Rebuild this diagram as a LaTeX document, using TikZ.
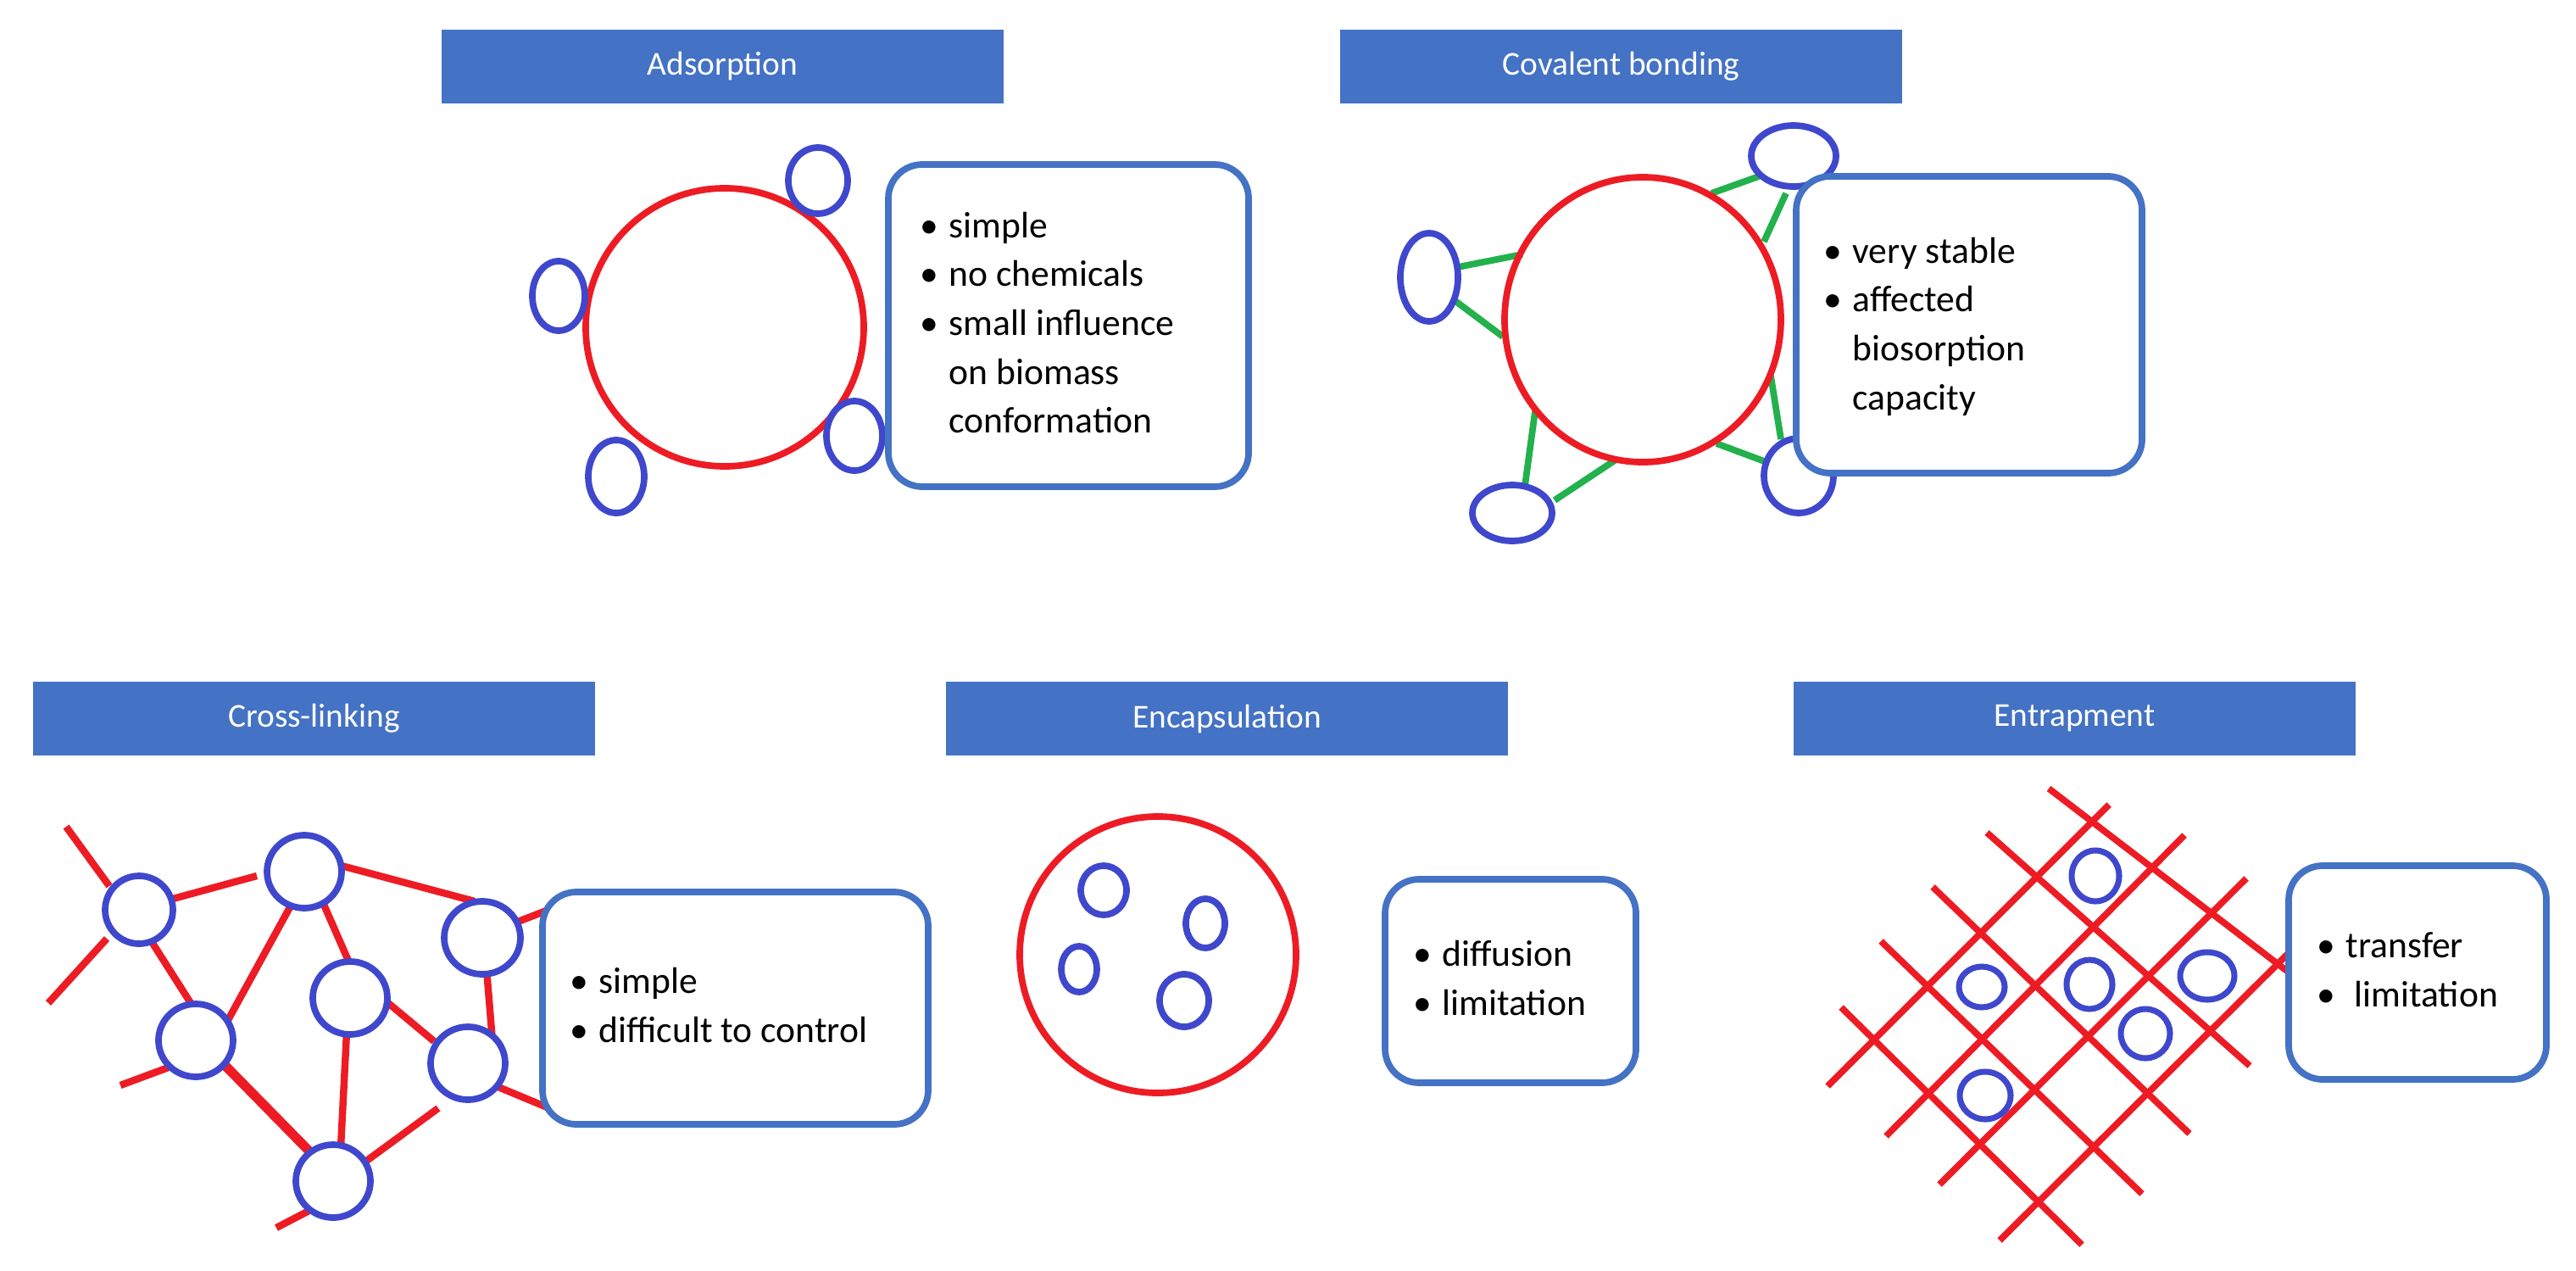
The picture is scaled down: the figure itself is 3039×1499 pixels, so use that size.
\documentclass[tikz,border=0pt]{standalone}
\usepackage{fontspec}
\setmainfont{Carlito}
\definecolor{hdr}{HTML}{4472C4}
\definecolor{rd}{HTML}{ED1C24}
\definecolor{bl}{HTML}{3F48CC}
\definecolor{gr}{HTML}{22B14C}
\newcommand{\bitem}{\textbullet}
\begin{document}
\begin{tikzpicture}[x=0.025cm,y=-0.025cm,
  header/.style={fill=hdr,text=white,font=\fontsize{28}{34}\selectfont,inner sep=0},
  infobox/.style={draw=hdr,line width=5.5pt,rounded corners=1cm,fill=white},
  infotext/.style={anchor=west,inner sep=0,font=\fontsize{31}{41}\selectfont,align=left},
  cell/.style={draw=rd,line width=5.5pt},
  mol/.style={draw=bl,line width=5.5pt,fill=white},
  link/.style={draw=rd,line width=6pt},
  glink/.style={draw=gr,line width=5.5pt}]
\useasboundingbox (0,0) rectangle (3039,1499);

% headers
\path[fill=hdr] (521,35) rectangle (1184,122); \node[header] (h1) at (852.5,78.5) {Adsorption};
\path[fill=hdr] (1581,35) rectangle (2244,122); \node[header] (h2) at (1912.5,78.5) {Covalent bonding};
\path[fill=hdr] (39,804) rectangle (702,891); \node[header] (h3) at (370.5,847.5) {Cross-linking};
\path[fill=hdr] (1116,804) rectangle (1779,891); \node[header] (h4) at (1447.5,847.5) {Encapsulation};
\path[fill=hdr] (2116,804) rectangle (2779,891); \node[header] (h5) at (2447.5,847.5) {Entrapment};

% Adsorption
\draw[cell] (855,386) circle [radius=164];
\draw[mol] (965,213) ellipse [x radius=35,y radius=39];
\draw[mol] (659,349) ellipse [x radius=31,y radius=41];
\draw[mol] (1008,514) ellipse [x radius=33,y radius=41];
\draw[mol] (727,562) ellipse [x radius=33,y radius=43];
\draw[infobox] (1048,194) rectangle (1473,574);
\node[infotext] (t1) at (1085,384) {\begin{tabular}{@{}l@{\hspace{9pt}}l@{}}\bitem & simple\\ \bitem & no chemicals\\ \bitem & small influence\\ & on biomass\\ & conformation\end{tabular}};

% Covalent bonding
\draw[glink] (2019,228) -- (2075,208);
\draw[glink] (2107,228) -- (2081,285);
\draw[glink] (1720,315) -- (1796,300);
\draw[glink] (1717,355) -- (1773,397);
\draw[glink] (2089,443) -- (2101,518);
\draw[glink] (2025,523) -- (2084,545);
\draw[glink] (1811,485) -- (1799,573);
\draw[glink] (1834,590) -- (1905,543);
\draw[cell] (1938,377) ellipse [x radius=163,y radius=168];
\draw[mol] (2116,184) ellipse [x radius=50,y radius=36];
\draw[mol] (1686,327) ellipse [x radius=34,y radius=52];
\draw[mol] (2122,561) ellipse [x radius=41,y radius=44];
\draw[mol] (1784,605) ellipse [x radius=47,y radius=33];
\draw[infobox] (2119,208) rectangle (2527,558);
\node[infotext] (t2) at (2151,385) {\begin{tabular}{@{}l@{\hspace{9pt}}l@{}}\bitem & very stable\\ \bitem & affected\\ & biosorption\\ & capacity\end{tabular}};

% Cross-linking
\foreach \a/\b/\c/\d in {78/975/129/1045, 126/1107/57/1183, 204/1060/303/1033, 399/1020/560/1063,
  611/1087/660/1068, 174/1103/225/1183, 342/1070/269/1203, 379/1060/411/1133, 574/1143/581/1228,
  452/1178/512/1228, 409/1217/402/1353, 583/1280/660/1312, 204/1257/142/1280,
  517/1307/427/1373, 374/1423/326/1448}
  \draw[link] (\a,\b) -- (\c,\d);
\draw[link,line width=8pt] (264,1255) -- (374,1367);
\draw[mol] (164,1073) circle [radius=40];
\draw[mol] (359,1028) ellipse [x radius=44,y radius=43];
\draw[mol] (569,1106) ellipse [x radius=45,y radius=43];
\draw[mol] (413,1177) ellipse [x radius=44,y radius=43];
\draw[mol] (231,1227) ellipse [x radius=44,y radius=43];
\draw[mol] (552,1254) ellipse [x radius=44,y radius=43];
\draw[mol] (393,1393) ellipse [x radius=44,y radius=43];
\draw[infobox] (640,1052) rectangle (1095,1326);
\node[infotext] (t3) at (672,1189) {\begin{tabular}{@{}l@{\hspace{9pt}}l@{}}\bitem & simple\\ \bitem & difficult to control\end{tabular}};

% Encapsulation
\draw[cell] (1366,1126) circle [radius=163];
\draw[mol] (1302,1050) ellipse [x radius=27,y radius=29];
\draw[mol] (1422,1089) ellipse [x radius=23,y radius=29];
\draw[mol] (1273,1143) ellipse [x radius=21,y radius=27];
\draw[mol] (1397,1180) ellipse [x radius=29,y radius=31];
\draw[infobox] (1634,1037) rectangle (1930,1277);
\node[infotext] (t4) at (1667,1157) {\begin{tabular}{@{}l@{\hspace{9pt}}l@{}}\bitem & diffusion\\ \bitem & limitation\end{tabular}};

% Entrapment
\foreach \a/\b/\c/\d in {2417/930/2720/1162, 2344/982/2654/1257, 2280/1046/2583/1337,
  2219/1110/2527/1408, 2172/1188/2456/1468,
  2488/949/2156/1281, 2577/985/2225/1340, 2650/1036/2288/1397, 2720/1104/2359/1463}
  \draw[cell] (\a,\b) -- (\c,\d);
\draw[mol,line width=5pt] (2472,1033) ellipse [x radius=28,y radius=30];
\draw[mol,line width=5pt] (2338,1164) ellipse [x radius=27,y radius=24];
\draw[mol,line width=5pt] (2465,1161) ellipse [x radius=27,y radius=29];
\draw[mol,line width=5pt] (2604,1151) ellipse [x radius=32,y radius=28];
\draw[mol,line width=5pt] (2531,1219) ellipse [x radius=29,y radius=29];
\draw[mol,line width=5pt] (2342,1292) ellipse [x radius=30,y radius=28];
\draw[infobox] (2700,1021) rectangle (3004,1273);
\node[infotext] (t5) at (2733,1147) {\begin{tabular}{@{}l@{\hspace{9pt}}l@{}}\bitem & transfer\\ \bitem & \ limitation\end{tabular}};
\end{tikzpicture}
\end{document}
